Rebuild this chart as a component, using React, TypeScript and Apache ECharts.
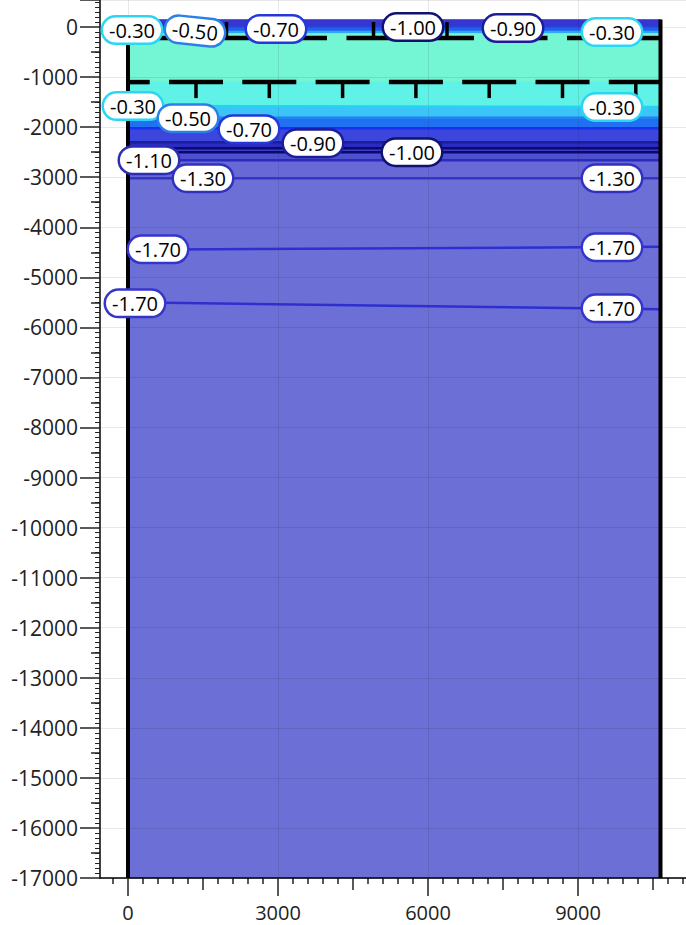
import React, { useEffect, useRef } from "react";
import * as echarts from "echarts";

// Model extent (m)
const modelWidth = 10650;
const modelBase = -17000;
const modelTop = 150;

// Surfaces bounding the coloured bands: depth at x = 0 and at x = modelWidth
const surfaceDepthLeft = [150, 0, -80, -130, -1100, -1580, -1810, -2020, -2300, -2420, -2500, -2660, -3020, -17000];
const surfaceDepthRight = [150, 0, -80, -130, -1100, -1600, -1810, -2020, -2300, -2420, -2500, -2660, -3020, -17000];

// Contour lines
const contourLevels = [-0.3, -0.5, -0.7, -0.9, -1.0, -1.0, -1.1, -1.3, -1.7, -1.7];
const contourDepthLeft = [-1580, -1810, -2020, -2300, -2420, -2500, -2660, -3020, -4450, -5500];
const contourDepthRight = [-1600, -1810, -2020, -2300, -2420, -2500, -2660, -3020, -4390, -5640];

// Contour labels
const labelLevels = [-0.3, -0.5, -0.7, -1.0, -0.9, -0.3, -0.3, -0.5, -0.7, -0.9, -1.0, -1.1, -1.3, -0.3, -1.3, -1.7, -1.7, -1.7, -1.7];
const labelX = [80, 1340, 2960, 5700, 7700, 9680, 100, 1200, 2420, 3700, 5680, 420, 1500, 9680, 9680, 600, 9680, 140, 9680];
const labelDepth = [-60, -80, -40, 0, -20, -100, -1580, -1820, -2040, -2320, -2500, -2660, -3020, -1600, -3020, -4440, -4400, -5520, -5620];

// Boundary markers (dashed boundaries with ticks)
const upperBoundaryDepth = -220;
const upperStemEnd = 100;
const upperMarkX = [500, 1970, 3440, 4910, 6380, 7850, 9320, 10790];
const lowerBoundaryDepth = -1100;
const lowerStemEnd = -1420;
const lowerMarkX = [-106, 1360, 2826, 4292, 5758, 7224, 8690, 10156];

// Axis ticks
const xLabelValues = [0, 3000, 6000, 9000];
const xMediumTicks = [1500, 4500, 7500, 10500];
const xMinorTicks: number[] = [];
for (let v = -300; v <= 11100; v += 300) if (v % 1500 !== 0) xMinorTicks.push(v);
const yMediumTicks: number[] = [];
for (let v = -16500; v <= 0; v += 1000) yMediumTicks.push(v);

// ---- styles ----
const FONT = "Open Sans";
const bandColors = [
  "#3535d0", "#1f60f2", "#30a8f6", "#74f5d3", "#60f2e6", "#3cc4f8", "#2170f4",
  "#3c46dc", "#2b2bbf", "#3b3bc6", "#4f50cf", "#6869d7", "#6c70d6",
];
const lineColor: Record<string, string> = {
  "-0.30": "#22d4ef", "-0.50": "#1f84ee", "-0.70": "#1530ee", "-0.90": "#1c1c9e",
  "-1.00": "#0a0a6e", "-1.10": "#2a2abb", "-1.30": "#3434c6", "-1.70": "#2f2fcf",
};
const borderColor: Record<string, string> = {
  "-0.30": "#2ad6f2", "-0.50": "#2b80e6", "-0.70": "#2537d8", "-0.90": "#1d1d99",
  "-1.00": "#111170", "-1.10": "#2c2cb5", "-1.30": "#3131c1", "-1.70": "#3535cc",
};
const tiltedLabel = 1;
const dashHalf = 540;

const xDomain = { min: -560, max: 11160 };
const yDomain = { min: modelBase, max: 540 };

function tickAxis(values: number[], length: number) {
  return {
    type: "value",
    ...xDomain,
    position: "bottom",
    axisLine: { show: false, onZero: false },
    axisTick: { show: true, customValues: values, length, lineStyle: { color: "#222", width: 1.5 } },
    axisLabel: { show: false },
    splitLine: { show: false },
  };
}

function markerSeries(xs: number[], depth: number, stemEnd: number) {
  return {
    type: "custom",
    z: 5,
    silent: true,
    data: xs.map((x) => [x, depth, stemEnd]),
    renderItem: (_p: any, api: any) => {
      const cx = api.value(0);
      const d = api.value(1);
      const s = api.value(2);
      const x0 = Math.max(0, cx - dashHalf);
      const x1 = Math.min(modelWidth, cx + dashHalf);
      const children: any[] = [];
      if (x1 > x0) {
        const a = api.coord([x0, d]);
        const b = api.coord([x1, d]);
        children.push({
          type: "line",
          shape: { x1: a[0], y1: a[1], x2: b[0], y2: b[1] },
          style: { stroke: "#000", lineWidth: 4.5 },
        });
      }
      if (cx >= 0 && cx <= modelWidth) {
        const a = api.coord([cx, d]);
        const b = api.coord([cx, s]);
        children.push({
          type: "line",
          shape: { x1: a[0], y1: a[1], x2: b[0], y2: b[1] },
          style: { stroke: "#000", lineWidth: 3.5 },
        });
      }
      return { type: "group", children };
    },
  };
}

export default function App() {
  const ref = useRef<HTMLDivElement>(null);

  useEffect(() => {
    const chart = echarts.init(ref.current!, null, { renderer: "svg" });

    const bandSeries = {
      type: "custom",
      z: 1,
      silent: true,
      data: bandColors.map((_, i) => [i]),
      renderItem: (_p: any, api: any) => {
        const i = api.value(0);
        const pts = [
          api.coord([0, surfaceDepthLeft[i]]),
          api.coord([modelWidth, surfaceDepthRight[i]]),
          api.coord([modelWidth, surfaceDepthRight[i + 1]]),
          api.coord([0, surfaceDepthLeft[i + 1]]),
        ];
        return {
          type: "polygon",
          shape: { points: pts },
          style: { fill: bandColors[i], stroke: bandColors[i], lineWidth: 0.6 },
        };
      },
    };

    const contourSeries = contourLevels.map((lv, i) => ({
      type: "line",
      z: 3,
      silent: true,
      symbol: "none",
      data: [
        [0, contourDepthLeft[i]],
        [modelWidth, contourDepthRight[i]],
      ],
      lineStyle: { color: lineColor[lv.toFixed(2)], width: 2.5 },
    }));

    const boundarySeries = [
      [[0, upperBoundaryDepth], [0, modelBase]],
      [[modelWidth, modelTop], [modelWidth, modelBase]],
    ].map((d) => ({
      type: "line",
      z: 5,
      silent: true,
      symbol: "none",
      data: d,
      lineStyle: { color: "#000", width: 4 },
    }));

    const labelSeries = {
      type: "scatter",
      z: 10,
      silent: true,
      symbolSize: 0,
      itemStyle: { opacity: 1 },
      data: labelLevels.map((lv, i) => ({
        value: [labelX[i], labelDepth[i], lv],
        label: {
          borderColor: borderColor[lv.toFixed(2)],
          rotate: i === tiltedLabel ? -6 : 0,
        },
      })),
      label: {
        show: true,
        opacity: 1,
        position: "inside",
        formatter: (p: any) => Number(p.value[2]).toFixed(2),
        fontFamily: FONT,
        fontSize: 20,
        color: "#000",
        backgroundColor: "#fff",
        borderWidth: 2.5,
        borderRadius: 13,
        padding: [3, 6, 2, 6],
      },
    };

    chart.setOption({
      animation: false,
      backgroundColor: "#fff",
      grid: { left: 100, right: 0, top: 0, bottom: 47 },
      xAxis: [
        {
          type: "value",
          ...xDomain,
          position: "bottom",
          z: 2,
          axisLine: { show: true, onZero: false, lineStyle: { color: "#000", width: 1.5 } },
          axisTick: { show: true, customValues: xLabelValues, length: 18, lineStyle: { color: "#222", width: 1.5 } },
          axisLabel: {
            customValues: xLabelValues,
            formatter: (v: number) => String(v),
            margin: 24,
            fontSize: 20,
            lineHeight: 20,
            fontFamily: FONT,
            color: "#222",
          },
          splitLine: { show: true, lineStyle: { color: "rgba(0,0,0,0.09)", width: 1 } },
        },
        tickAxis(xMediumTicks, 12),
        tickAxis(xMinorTicks, 6),
      ],
      yAxis: [
        {
          type: "value",
          ...yDomain,
          interval: 1000,
          position: "left",
          z: 2,
          axisLine: { show: true, onZero: false, lineStyle: { color: "#000", width: 1.5 } },
          axisTick: { show: true, length: 20, lineStyle: { color: "#222", width: 1.5 } },
          minorTick: { show: true, splitNumber: 10, length: 5, lineStyle: { color: "#222", width: 1 } },
          axisLabel: {
            formatter: (v: number) => (v % 1000 === 0 ? String(v) : ""),
            margin: 22,
            fontSize: 21,
            fontFamily: FONT,
            color: "#222",
          },
          splitLine: { show: true, lineStyle: { color: "rgba(0,0,0,0.09)", width: 1 } },
        },
        {
          type: "value",
          ...yDomain,
          position: "left",
          axisLine: { show: false, onZero: false },
          axisTick: { show: true, customValues: yMediumTicks, length: 9, lineStyle: { color: "#222", width: 1.5 } },
          axisLabel: { show: false },
          splitLine: { show: false },
        },
      ],
      series: [
        bandSeries,
        ...contourSeries,
        markerSeries(upperMarkX, upperBoundaryDepth, upperStemEnd),
        markerSeries(lowerMarkX, lowerBoundaryDepth, lowerStemEnd),
        ...boundarySeries,
        labelSeries,
      ],
    });

    return () => chart.dispose();
  }, []);

  return (
    <div
      ref={ref}
      style={{ position: "absolute", left: 0, top: 0, width: 686, height: 925, background: "#fff" }}
    />
  );
}
